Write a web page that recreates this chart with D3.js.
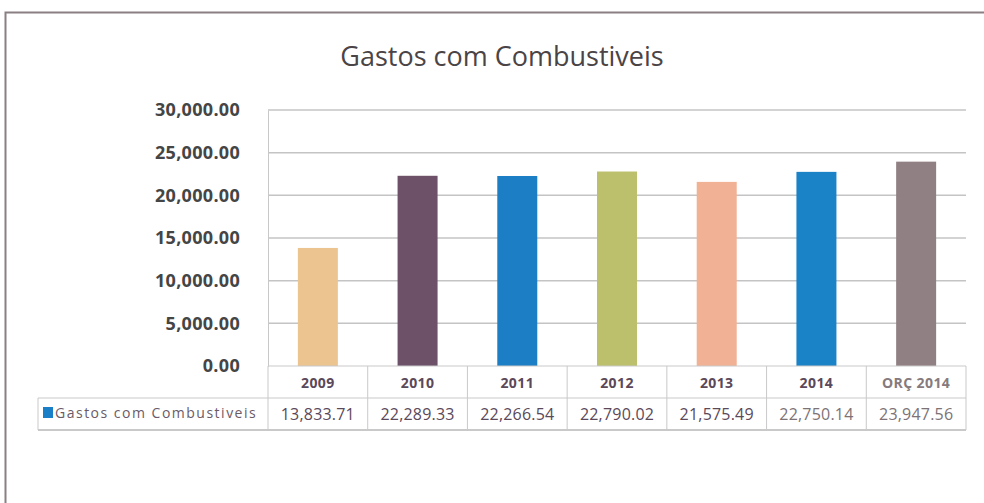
<!DOCTYPE html>
<html>
<head>
<meta charset="utf-8">
<script src="https://cdn.jsdelivr.net/npm/d3@7"></script>
<style>
html,body{margin:0;background:#fff;overflow:hidden}
svg{display:block}
svg text{font-family:"Open Sans","DejaVu Sans",sans-serif}
</style>
</head>
<body>
<svg width="984" height="503"></svg>
<script>
var categories=['2009','2010','2011','2012','2013','2014','ORÇ 2014']
var values=[13833.71,22289.33,22266.54,22790.02,21575.49,22750.14,23947.56]
var valueLabels=['13,833.71','22,289.33','22,266.54','22,790.02','21,575.49','22,750.14','23,947.56']
var colors=['#ecc48f','#6c5169','#1c7ec4','#bcbf6b','#f1b194','#1a82c7','#918083']
var yTicks=[0,5000,10000,15000,20000,25000,30000]
var seriesName='Gastos com Combustiveis'

var svg=d3.select('svg')

// frame
svg.append('path')
    .attr('d','M5.5,503 L5.5,12.5 L990,12.5')
    .attr('fill','none').attr('stroke','#8a7f82').attr('stroke-width',2)

svg.append('text')
    .attr('x',502).attr('y',66)
    .attr('text-anchor','middle')
    .attr('font-size',27)
    .attr('fill','#4a4446')
    .text('Gastos  com Combustiveis')

var x=d3.scaleBand().domain(categories).range([268,966])
var y=d3.scaleLinear().domain([0,30000]).range([366,110])

// gridlines
svg.selectAll('.grid').data(yTicks.slice(1)).enter().append('line')
    .attr('x1',268).attr('x2',966)
    .attr('y1',function(d){return y(d)}).attr('y2',function(d){return y(d)})
    .attr('stroke','#c4c4c4').attr('stroke-width',1.5)

var yAxis=svg.append('g').attr('transform','translate(268,0)')
    .call(d3.axisLeft(y).tickValues(yTicks).tickSize(0).tickPadding(28)
        .tickFormat(function(d){return d3.format(',.2f')(d)}))
yAxis.select('.domain').attr('stroke','#c8c8c8')
yAxis.selectAll('text').attr('font-size',18).attr('font-weight','bold')
    .attr('fill','#454545').attr('letter-spacing',0.3)
    .attr('font-family','"Open Sans",sans-serif')

// bars
svg.selectAll('.bar').data(values).enter().append('rect')
    .attr('x',function(d,i){return x(categories[i])+x.bandwidth()/2-20})
    .attr('width',40)
    .attr('y',function(d){return y(d)})
    .attr('height',function(d){return y(0)-y(d)})
    .attr('fill',function(d,i){return colors[i]})

// data table
var tb=svg.append('g').attr('stroke','#c9c9c9').attr('fill','none')
tb.append('line').attr('x1',268).attr('x2',966).attr('y1',366).attr('y2',366)
tb.append('line').attr('x1',38).attr('x2',966).attr('y1',398).attr('y2',398)
tb.append('line').attr('x1',38).attr('x2',966).attr('y1',430).attr('y2',430).attr('stroke-width',2)
tb.append('line').attr('x1',38).attr('x2',38).attr('y1',398).attr('y2',430)
var edges=categories.map(function(c){return x(c)}).concat([966])
tb.selectAll('.v').data(edges).enter().append('line')
    .attr('x1',function(d){return d}).attr('x2',function(d){return d})
    .attr('y1',366).attr('y2',430)

svg.selectAll('.cat').data(categories).enter().append('text')
    .attr('x',function(d){return x(d)+x.bandwidth()/2})
    .attr('y',388)
    .attr('text-anchor','middle')
    .attr('font-size',14).attr('font-weight','bold')
    .attr('letter-spacing',0.4)
    .attr('fill',function(d,i){return i==6?'#857a7d':'#5b4859'})
    .text(function(d){return d})

svg.selectAll('.val').data(valueLabels).enter().append('text')
    .attr('x',function(d,i){return x(categories[i])+x.bandwidth()/2})
    .attr('y',420)
    .attr('text-anchor','middle')
    .attr('font-size',16)
    .attr('letter-spacing',0.2)
    .attr('fill',function(d,i){return i>=5?'#7d7275':'#5b4859'})
    .text(function(d){return d})

svg.append('rect').attr('x',43).attr('y',407).attr('width',10).attr('height',11).attr('fill','#1a7fc6')
svg.append('text').attr('x',55).attr('y',418)
    .attr('font-size',14).attr('fill','#6a5b67')
    .attr('letter-spacing',1.5)
    .text(seriesName)
</script>
</body>
</html>
